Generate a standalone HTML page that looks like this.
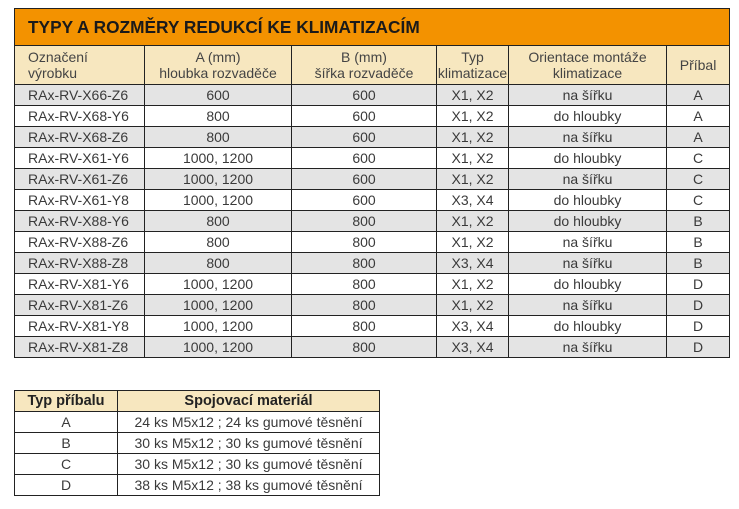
<!DOCTYPE html>
<html><head><meta charset="utf-8"><style>
body{margin:0;background:#fff;width:739px;height:509px;overflow:hidden;font-family:"Liberation Sans",Arial,sans-serif;color:#3a3a3a;}
table{border-collapse:collapse;position:absolute;table-layout:fixed;}
td{border:1px solid #222;padding:0;font-size:14px;line-height:16px;text-align:center;white-space:nowrap;}
#t1{left:14px;top:8px;width:715px;}
#t1 .title{background:#f39200;color:#1a1a1a;font-weight:bold;font-size:17.3px;text-align:left;padding-left:13px;height:36px;}
.h td{background:#f7e7bf;height:38px;color:#444;}
.r td{height:20px;}
.g td{background:#e4e4e4;}
td.l{text-align:left;padding-left:13px;}
#t2{left:14px;top:390px;width:365px;}
#t2 .hh td{background:#f7e7bf;font-weight:bold;font-size:14.5px;height:20px;color:#222;}
</style></head><body>
<table id="t1">
<colgroup><col style="width:130px"><col style="width:147px"><col style="width:145px"><col style="width:72px"><col style="width:158px"><col style="width:63px"></colgroup>
<tr><td colspan="6" class="title">TYPY A ROZMĚRY REDUKCÍ KE KLIMATIZACÍM</td></tr>
<tr class="h"><td class="l">Označení<br>výrobku</td><td>A (mm)<br>hloubka rozvaděče</td><td>B (mm)<br>šířka rozvaděče</td><td>Typ<br>klimatizace</td><td>Orientace montáže<br>klimatizace</td><td>Příbal</td></tr>
<tr class="r g"><td class="l">RAx-RV-X66-Z6</td><td>600</td><td>600</td><td>X1, X2</td><td>na šířku</td><td>A</td></tr>
<tr class="r"><td class="l">RAx-RV-X68-Y6</td><td>800</td><td>600</td><td>X1, X2</td><td>do hloubky</td><td>A</td></tr>
<tr class="r g"><td class="l">RAx-RV-X68-Z6</td><td>800</td><td>600</td><td>X1, X2</td><td>na šířku</td><td>A</td></tr>
<tr class="r"><td class="l">RAx-RV-X61-Y6</td><td>1000, 1200</td><td>600</td><td>X1, X2</td><td>do hloubky</td><td>C</td></tr>
<tr class="r g"><td class="l">RAx-RV-X61-Z6</td><td>1000, 1200</td><td>600</td><td>X1, X2</td><td>na šířku</td><td>C</td></tr>
<tr class="r"><td class="l">RAx-RV-X61-Y8</td><td>1000, 1200</td><td>600</td><td>X3, X4</td><td>do hloubky</td><td>C</td></tr>
<tr class="r g"><td class="l">RAx-RV-X88-Y6</td><td>800</td><td>800</td><td>X1, X2</td><td>do hloubky</td><td>B</td></tr>
<tr class="r"><td class="l">RAx-RV-X88-Z6</td><td>800</td><td>800</td><td>X1, X2</td><td>na šířku</td><td>B</td></tr>
<tr class="r g"><td class="l">RAx-RV-X88-Z8</td><td>800</td><td>800</td><td>X3, X4</td><td>na šířku</td><td>B</td></tr>
<tr class="r"><td class="l">RAx-RV-X81-Y6</td><td>1000, 1200</td><td>800</td><td>X1, X2</td><td>do hloubky</td><td>D</td></tr>
<tr class="r g"><td class="l">RAx-RV-X81-Z6</td><td>1000, 1200</td><td>800</td><td>X1, X2</td><td>na šířku</td><td>D</td></tr>
<tr class="r"><td class="l">RAx-RV-X81-Y8</td><td>1000, 1200</td><td>800</td><td>X3, X4</td><td>do hloubky</td><td>D</td></tr>
<tr class="r g"><td class="l">RAx-RV-X81-Z8</td><td>1000, 1200</td><td>800</td><td>X3, X4</td><td>na šířku</td><td>D</td></tr>
</table>
<table id="t2">
<colgroup><col style="width:103px"><col style="width:262px"></colgroup>
<tr class="hh"><td>Typ příbalu</td><td>Spojovací materiál</td></tr>
<tr class="r"><td>A</td><td>24 ks M5x12 ; 24 ks gumové těsnění</td></tr>
<tr class="r"><td>B</td><td>30 ks M5x12 ; 30 ks gumové těsnění</td></tr>
<tr class="r"><td>C</td><td>30 ks M5x12 ; 30 ks gumové těsnění</td></tr>
<tr class="r"><td>D</td><td>38 ks M5x12 ; 38 ks gumové těsnění</td></tr>
</table>
</body></html>
